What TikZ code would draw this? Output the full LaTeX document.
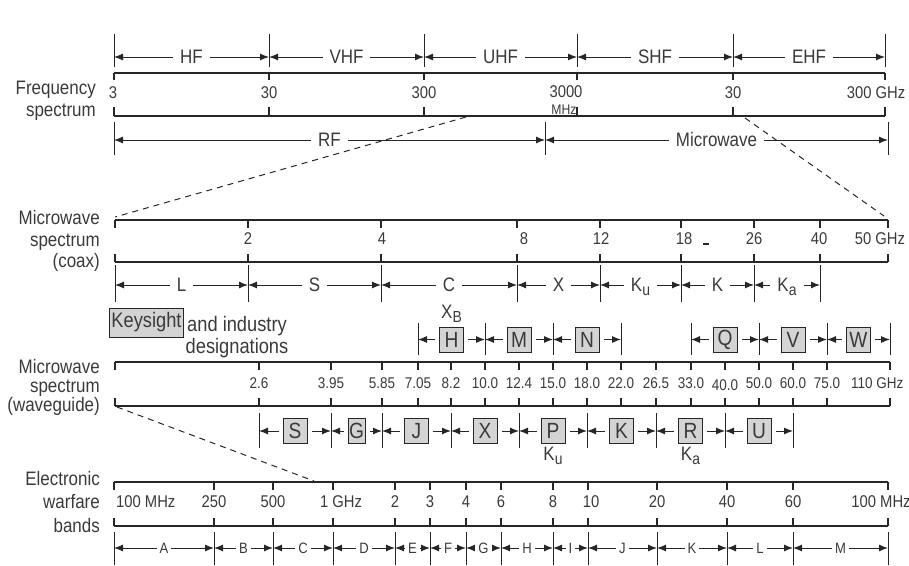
\documentclass[tikz,border=0pt]{standalone}
\usepackage{fontspec}
\setmainfont{Liberation Sans}[FakeStretch=0.87]
\usetikzlibrary{
	arrows.meta,
	positioning
}

\definecolor{ink}{HTML}{262626}
\definecolor{inktext}{HTML}{3A3A3A}
\definecolor{boxgray}{HTML}{D4D4D4}

% subscript set low and almost full size
\newcommand{\lowsub}[1]{\smash{\raisebox{-4pt}{\fontsize{16}{16}\selectfont #1}}}

\begin{document}
\begin{tikzpicture}[x=1pt, y=-1pt,
  every node/.style={text=inktext, inner sep=0pt},
  axisline/.style={draw=ink, line width=1.3pt},
  tickline/.style={draw=ink, line width=1.1pt},
  sepline/.style={draw=ink, line width=0.9pt},
  dim/.style={draw=ink, line width=1pt,
    arrows={Latex[length=9pt,width=7pt]-Latex[length=9pt,width=7pt]}},
  bandlab/.style={fill=white, inner xsep=7pt, inner ysep=1pt,
    font=\fontsize{19.5}{20}\selectfont},
  smallband/.style={fill=white, inner xsep=3pt, inner ysep=1pt,
    font=\fontsize{15}{15}\selectfont},
  ticklab/.style={font=\fontsize{17}{17}\selectfont},
  wglab/.style={font=\fontsize{15.5}{15.5}\selectfont},
  sidelab/.style={align=right, anchor=east,
    font=\fontsize{19.5}{21.5}\selectfont},
  wgbox/.style={draw=ink, fill=boxgray, line width=1pt,
    minimum width=24pt, minimum height=25pt,
    font=\fontsize{22}{22}\selectfont,
    preaction={draw=white, line width=9pt}},
  zoomline/.style={draw=ink, line width=1pt, dash pattern=on 6pt off 5pt}
]
\useasboundingbox (0,0) rectangle (909,565);

% ---- frequency spectrum
\node[sidelab] (fs-lab) at (96,101) {Frequency\\spectrum};
\foreach \x in {114,269,424,577,733,885}
  \draw[sepline] (\x,34) -- (\x,67);
\foreach \xa/\xb/\t in {114/269/HF,269/424/VHF,424/577/UHF,577/733/SHF,733/885/EHF}
  \draw[dim] (\xa,57) -- (\xb,57) node[midway,bandlab] (fs-\t) {\t};
\draw[axisline] (114,73) -- (885,73) (114,116) -- (885,116);
\foreach \x in {114,269,424,577,733,885}
  \draw[tickline] (\x,73) -- ++(0,7) (\x,116) -- ++(0,-9);
\foreach \x/\t in {113/3,269/30,424/300,733/30}
  \node[ticklab] (fs-\x) at (\x,93) {\t};
\node[ticklab] (fs-3000) at (566,92) {3000};
\node[font=\fontsize{14}{14}\selectfont] (fs-mhz) at (564,110) {MHz};
\node[ticklab] (fs-300g) at (876,93) {300 GHz};
\foreach \x in {114,545,888}
  \draw[sepline] (\x,122) -- (\x,155);
\draw[dim] (114,140) -- (545,140) node[midway,bandlab] (fs-rf) {RF};
\draw[dim] (545,140) -- (888,140) node[midway,bandlab] (fs-mw) {Microwave};

% ---- microwave spectrum (coax)
\node[sidelab] (cx-lab) at (100,241) {Microwave\\spectrum\\(coax)};
\draw[axisline] (115,220) -- (888,220) (115,262) -- (888,262);
\foreach \x in {115,248,381,517,600,681,754,820,888}
  \draw[tickline] (\x,220) -- ++(0,8) (\x,262) -- ++(0,-8);
\foreach \x/\t in {248/2,382/4,524/8,601/12,684/18,754/26,819/40}
  \node[ticklab] (cx-\t) at (\x,239) {\t};
\node[ticklab] (cx-50) at (880,239) {50 GHz};
\draw[tickline] (703,244) -- (709,244);
\foreach \x in {115,248,381,517,600,681,754,820}
  \draw[sepline] (\x,265) -- (\x,302);
\foreach \xa/\xb/\t [count=\i] in {115/248/L,248/381/S,381/517/C,517/600/X,
    600/681/K\lowsub{u},681/754/K,754/820/K\lowsub{a}}
  \draw[dim] (\xa,285) -- (\xb,285) node[midway,bandlab] (cb\i) {\t};

% ---- designations
\node[draw=ink, fill=boxgray, line width=1pt, inner xsep=2pt,
  minimum height=29pt, font=\fontsize{21}{21}\selectfont] (keysight)
  at (146.5,322.5) {Keysight};
\node[align=center, font=\fontsize{21}{22}\selectfont] (industry)
  at (237,337) {and industry\\designations};

% ---- microwave spectrum (waveguide)
\node[sidelab, font=\fontsize{19.5}{19}\selectfont] (wg-lab) at (100,387)
  {Microwave\\spectrum\\(waveguide)};
\foreach \x in {418,485,553,621,691,759,827,890}
  \draw[sepline] (\x,323) -- (\x,355);
\foreach \xa/\xb/\t in {418/485/H,485/553/M,553/621/N,691/759/Q,759/827/V,827/890/W}
  \draw[dim] (\xa,339.5) -- (\xb,339.5) node[midway,wgbox] (up-\t) {\t};
\node[font=\fontsize{19.5}{20}\selectfont, above=8pt of up-H] (xb) {X\lowsub{B}};
\draw[axisline] (115,362) -- (890,362) (115,406) -- (890,406);
\foreach \x in {115,259,331,382,418,451,485,519,553,587,621,656,691,725,759,793,827,890}
  \draw[tickline] (\x,362) -- ++(0,8) (\x,406) -- ++(0,-8);
\foreach \x/\t in {259/2.6,331/3.95,382/5.85,418/7.05,451/8.2,485/10.0,519/12.4,
    553/15.0,587/18.0,621/22.0,656/26.5,691/33.0,759/50.0,793/60.0,827/75.0}
  \node[wglab] (wg-\x) at (\x,383) {\t};
\node[wglab] (wg-725) at (725,385) {40.0};
\node[wglab, anchor=west] (wg-110) at (851,383) {110 GHz};
\foreach \x in {259,331,382,451,519,587,656,725,793}
  \draw[sepline] (\x,413) -- (\x,448);
\foreach \xa/\xb/\t/\w in {259/331/S/24,331/382/G/17,382/451/J/24,451/519/X/24,
    519/587/P/24,587/656/K/24,656/725/R/24,725/793/U/24}
  \draw[dim] (\xa,431) -- (\xb,431)
    node[midway,wgbox,minimum width=\w pt] (lo-\t) {\t};
\node[font=\fontsize{19.5}{20}\selectfont, below=3pt of lo-P] (ku) {K\lowsub{u}};
\node[font=\fontsize{19.5}{20}\selectfont, below=3pt of lo-R] (ka) {K\lowsub{a}};

% ---- electronic warfare bands
\node[sidelab, font=\fontsize{19.5}{23.5}\selectfont] (ew-lab) at (100,502)
  {Electronic\\warfare\\bands};
\draw[axisline] (114,482) -- (888,482) (114,526) -- (888,526);
\foreach \x in {114,214,273,333,395,430,466,501,553,588,657,727,793,888}
  \draw[tickline] (\x,482) -- ++(0,8) (\x,526) -- ++(0,-8);
\node[ticklab, anchor=west] (ew-100m) at (116,502) {100 MHz};
\foreach \x/\t in {214/250,273/500,395/2,430/3,466/4,501/6,553/8,591/10,
    657/20,727/40,793/60}
  \node[ticklab] (ew-\x) at (\x,502) {\t};
\node[ticklab] (ew-1g) at (341,502) {1 GHz};
\node[ticklab] (ew-100r) at (881,502) {100 MHz};
\foreach \x in {114,214,273,333,395,430,466,501,553,588,657,727,793,888}
  \draw[sepline] (\x,532) -- (\x,565);
\foreach \xa/\xb/\t in {114/214/A,214/273/B,273/333/C,333/395/D,395/430/E,
    430/466/F,466/501/G,501/553/H,553/588/I,588/657/J,657/727/K,727/793/L,793/888/M}
  \draw[dim] (\xa,548) -- (\xb,548) node[midway,smallband] (ew-\t) {\t};

% ---- zoom lines
\coordinate (zl-a) at (466,117);
\coordinate (zl-b) at (115,217);
\coordinate (zr-a) at (745,118);
\coordinate (zr-b) at (884,216);
\coordinate (zw-a) at (117,407);
\coordinate (zw-b) at (314,481);
\draw[zoomline] (zl-a) -- (zl-b) (zr-a) -- (zr-b) (zw-a) -- (zw-b);
\end{tikzpicture}
\end{document}
